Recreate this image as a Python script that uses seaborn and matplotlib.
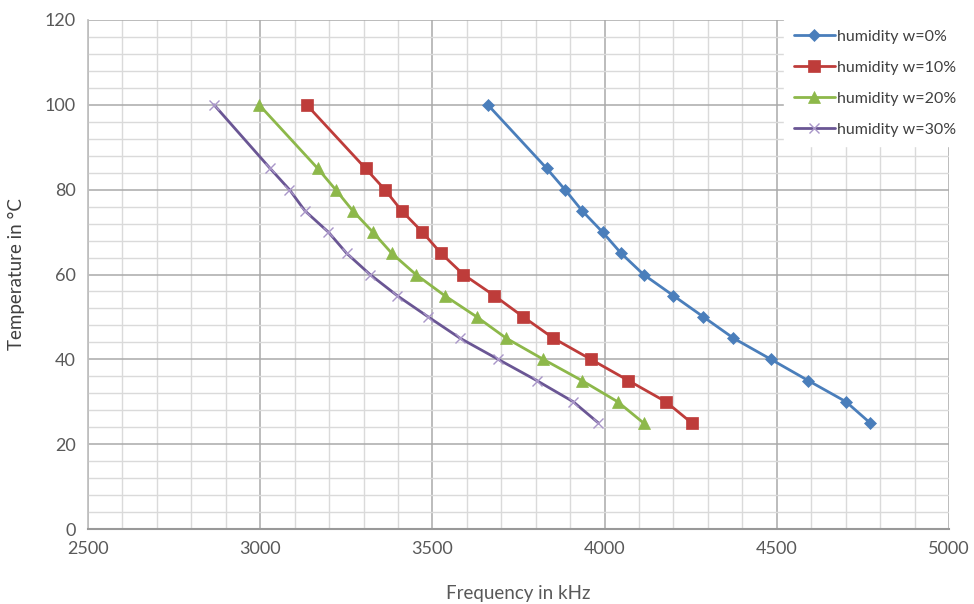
import matplotlib
matplotlib.use("Agg")
import matplotlib.pyplot as plt
import seaborn as sns
import pandas as pd
from matplotlib.ticker import MultipleLocator

temps = [100, 85, 80, 75, 70, 65, 60, 55, 50, 45, 40, 35, 30, 25]
freq_w0 = [3661, 3832, 3885, 3935, 3994, 4048, 4113, 4200, 4287, 4374, 4483, 4591, 4701, 4771]
freq_w10 = [3135, 3306, 3362, 3411, 3471, 3525, 3590, 3680, 3764, 3851, 3960, 4069, 4178, 4253]
freq_w20 = [2997, 3167, 3219, 3269, 3327, 3382, 3452, 3536, 3629, 3714, 3822, 3934, 4038, 4113]
freq_w30 = [2866, 3029, 3085, 3130, 3198, 3251, 3319, 3398, 3488, 3580, 3691, 3803, 3909, 3982]
labels = ["humidity w=0%", "humidity w=10%", "humidity w=20%", "humidity w=30%"]
x_ticks = [2500, 3000, 3500, 4000, 4500, 5000]
y_ticks = [0, 20, 40, 60, 80, 100, 120]

series = [freq_w0, freq_w10, freq_w20, freq_w30]
df = pd.concat([pd.DataFrame({"freq": f, "temp": temps, "series": lab})
                for f, lab in zip(series, labels)], ignore_index=True)

sns.set_theme(style="white")
plt.rcParams["font.family"] = ["Lato", "DejaVu Sans"]

fig = plt.figure(figsize=(9.74, 6.04), dpi=100)
ax = fig.add_axes([88/974, 1 - 529/604, (949-88)/974, (529-20)/604])

colors = ["#4A7EBB", "#BE3C3A", "#8DB84A", "#6A5694"]
markers = ["D", "s", "^", "x"]
msizes = [6, 8, 8, 7]
mcolors = ["#4A7EBB", "#BE3C3A", "#8DB84A", "#A996C8"]

for lab, c, m, ms, mc in zip(labels, colors, markers, msizes, mcolors):
    sub = df[df["series"] == lab]
    sns.lineplot(data=sub, x="freq", y="temp", ax=ax, color=c, marker=m,
                 markersize=ms, markerfacecolor=mc, markeredgecolor=mc,
                 markeredgewidth=1.0 if m == "x" else 0.5,
                 linewidth=2.0, label=lab, sort=False, estimator=None)

ax.set_xlim(2500, 5000)
ax.set_ylim(0, 120)
ax.set_xticks(x_ticks)
ax.set_yticks(y_ticks)
ax.xaxis.set_minor_locator(MultipleLocator(100))
ax.yaxis.set_minor_locator(MultipleLocator(4))
ax.grid(True, which="major", color="#AAAAAA", linewidth=1.1)
ax.grid(True, which="minor", color="#DADADA", linewidth=1.0)
ax.set_axisbelow(True)
for s in ["top", "right"]:
    ax.spines[s].set_visible(False)
ax.spines["left"].set_color("#BFBFBF")
ax.spines["bottom"].set_color("#999999")
ax.spines["bottom"].set_linewidth(1.5)
ax.tick_params(which="both", length=0, labelsize=13, labelcolor="#595959", pad=9)
ax.set_xlabel("Frequency in kHz", fontsize=13.5, color="#595959", labelpad=20)
ax.set_ylabel("Temperature in °C", fontsize=13.5, color="#404040", labelpad=14)

leg = ax.legend(loc="upper left", bbox_to_anchor=(776/974, 1 - 12/604),
                bbox_transform=fig.transFigure, frameon=True, fontsize=11.5,
                labelspacing=1.05, handlelength=2.6, handletextpad=0.15,
                borderpad=0.6, fancybox=False)
leg.get_frame().set_facecolor("white")
leg.get_frame().set_edgecolor("white")
leg.get_frame().set_alpha(1)
for t in leg.get_texts():
    t.set_color("#404040")

fig.savefig("out.png", dpi=100)
